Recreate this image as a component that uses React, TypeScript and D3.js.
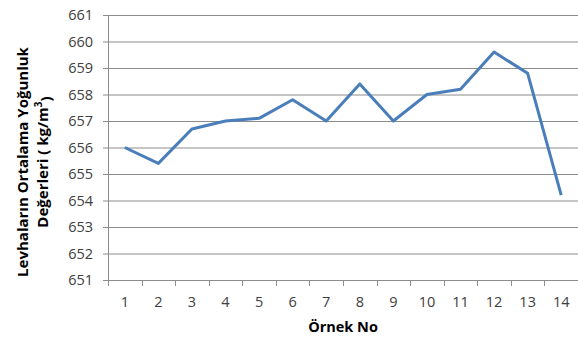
import React, { useEffect, useRef } from 'react';
import * as d3 from 'd3';

const samples = ['1', '2', '3', '4', '5', '6', '7', '8', '9', '10', '11', '12', '13', '14'];
const density = [656.0, 655.4, 656.7, 657.0, 657.1, 657.8, 657.0, 658.4, 657.0, 658.0, 658.2, 659.6, 658.8, 654.2];
const yTicks = [651, 652, 653, 654, 655, 656, 657, 658, 659, 660, 661];
const yTitle = ['Levhaların Ortalama Yoğunluk', 'Değerleri ( kg/m'];
const xTitle = 'Örnek No';

const W = 578;
const H = 338;
const font = 'Open Sans, sans-serif';

const App = () => {
  const svgRef = useRef<SVGSVGElement>(null);

  useEffect(() => {
    const svg = d3.select(svgRef.current);
    svg.selectAll('*').remove();

    const left = 108;
    const right = 578;
    const top = 15;
    const bottom = 280;

    const x = d3.scaleBand().domain(samples).range([left, right]);
    const y = d3.scaleLinear().domain([651, 661]).range([bottom, top]);

    // grid lines
    svg.append('g')
      .selectAll('line')
      .data(yTicks)
      .join('line')
      .attr('x1', left - 5)
      .attr('x2', right)
      .attr('y1', (d) => y(d) + 0.5)
      .attr('y2', (d) => y(d) + 0.5)
      .attr('stroke', '#8c8c8c')
      .attr('stroke-width', 1);

    // y axis line
    svg.append('line')
      .attr('x1', left + 0.5)
      .attr('x2', left + 0.5)
      .attr('y1', top)
      .attr('y2', bottom + 0.5)
      .attr('stroke', '#8c8c8c');

    // x ticks between categories
    const boundaries = samples.map((s) => x(s) as number).concat([right]);
    svg.append('g')
      .selectAll('line')
      .data(boundaries)
      .join('line')
      .attr('x1', (d) => Math.round(d) + 0.5)
      .attr('x2', (d) => Math.round(d) + 0.5)
      .attr('y1', bottom)
      .attr('y2', bottom + 6)
      .attr('stroke', '#8c8c8c');

    svg.append('g')
      .selectAll('text')
      .data(yTicks)
      .join('text')
      .attr('x', left - 15)
      .attr('y', (d) => y(d))
      .attr('dy', '0.35em')
      .attr('text-anchor', 'end')
      .attr('font-family', font)
      .attr('font-size', 14.5)
      .attr('fill', '#404040')
      .text((d) => d);

    svg.append('g')
      .selectAll('text')
      .data(samples)
      .join('text')
      .attr('x', (d) => (x(d) as number) + x.bandwidth() / 2)
      .attr('y', 302)
      .attr('dy', '0.35em')
      .attr('text-anchor', 'middle')
      .attr('font-family', font)
      .attr('font-size', 14.5)
      .attr('fill', '#404040')
      .text((d) => d);

    const line = d3
      .line<number>()
      .x((_, i) => (x(samples[i]) as number) + x.bandwidth() / 2)
      .y((d) => y(d));

    svg.append('path')
      .datum(density)
      .attr('d', line)
      .attr('fill', 'none')
      .attr('stroke', '#4A7EBB')
      .attr('stroke-width', 3)
      .attr('stroke-linejoin', 'round');

    svg.append('text')
      .attr('x', 343)
      .attr('y', 327)
      .attr('dy', '0.35em')
      .attr('text-anchor', 'middle')
      .attr('font-family', font)
      .attr('font-size', 14.5)
      .attr('font-weight', 'bold')
      .attr('fill', '#000')
      .text(xTitle);

    const yt = svg.append('g').attr('transform', 'translate(0,162) rotate(-90)');
    yt.append('text')
      .attr('x', 0)
      .attr('y', 23)
      .attr('dy', '0.35em')
      .attr('text-anchor', 'middle')
      .attr('font-family', font)
      .attr('font-size', 15)
      .attr('font-weight', 'bold')
      .text(yTitle[0]);
    const t2 = yt.append('text')
      .attr('x', 0)
      .attr('y', 43)
      .attr('dy', '0.35em')
      .attr('text-anchor', 'middle')
      .attr('font-family', font)
      .attr('font-size', 15)
      .attr('font-weight', 'bold');
    t2.append('tspan').text(yTitle[1]);
    t2.append('tspan').attr('font-size', 10).attr('dy', '-0.6em').text('3');
    t2.append('tspan').attr('dy', '0.6em').text(')');
  }, []);

  return (
    <svg
      ref={svgRef}
      width={W}
      height={H}
      style={{ position: 'absolute', left: 0, top: 0, background: '#fff' }}
    />
  );
};

export default App;
